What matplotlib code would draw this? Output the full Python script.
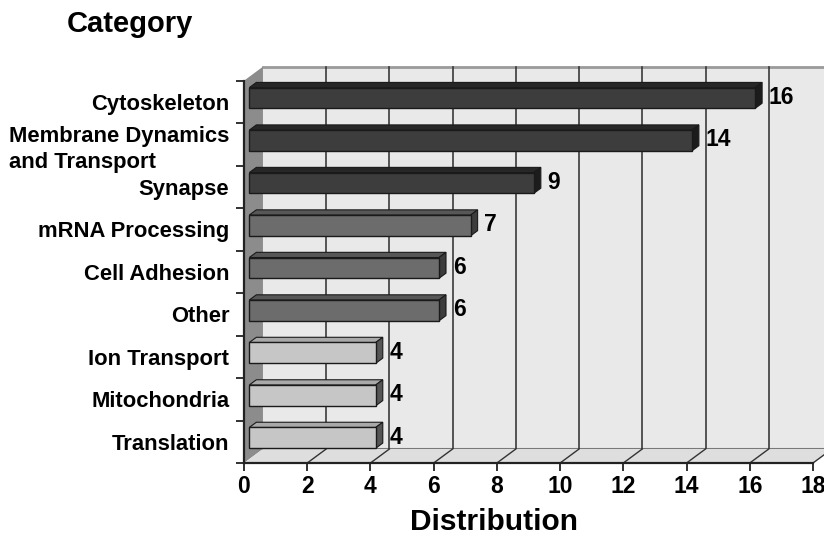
import matplotlib
matplotlib.use('Agg')
import matplotlib.pyplot as plt
from matplotlib.patches import Polygon

plt.rcParams['font.family'] = ['Liberation Sans', 'DejaVu Sans']
plt.rcParams['font.weight'] = 'bold'

categories = ["Cytoskeleton", "Membrane Dynamics\nand Transport", "Synapse",
              "mRNA Processing", "Cell Adhesion", "Other",
              "Ion Transport", "Mitochondria", "Translation"]
values = [16, 14, 9, 7, 6, 6, 4, 4, 4]
shade_group = [0, 0, 0, 1, 1, 1, 2, 2, 2]
xticks = [0, 2, 4, 6, 8, 10, 12, 14, 16, 18]

# face colours per group: (front, top, side)
group_colors = [("#3d3d3d", "#272727", "#1c1c1c"),
                ("#6c6c6c", "#575757", "#3c3c3c"),
                ("#c6c6c6", "#a9a9a9", "#555555")]

W, H = 824, 538
fig = plt.figure(figsize=(W / 100, H / 100), dpi=100)
ax = fig.add_axes([244 / W, (H - 463) / H, (813 - 244) / W, (463 - 80.7) / H])
ax.set_xlim(0, 18)
ax.set_ylim(0, len(categories))
ax.set_facecolor('none')

DX, DY = 0.6, 0.33       # depth offset of the 3D box (data units)
F, B = 0.28, 0.65        # bar front / back depth fractions
HALF = 0.245             # half bar thickness

def poly(pts, fc, ec='none', lw=0, z=0):
    p = Polygon(pts, closed=True, facecolor=fc, edgecolor=ec, linewidth=lw,
                zorder=z, clip_on=False)
    ax.add_patch(p)

n = len(categories)
xmax = xticks[-1]
# back wall
poly([(DX, DY), (xmax + DX + 1, DY), (xmax + DX + 1, n + DY), (DX, n + DY)], "#e9e9e9", z=0)
ax.plot([DX, xmax + DX + 1], [n + DY, n + DY], color="#9a9a9a", lw=2, zorder=0.5, clip_on=False)
ax.plot([DX, xmax + DX + 1], [DY, DY], color="#777777", lw=1.5, zorder=0.5, clip_on=False)
# gridlines on back wall
for t in xticks[1:]:
    ax.plot([t + DX, t + DX], [DY, n + DY], color="#3a3a3a", lw=1.2, zorder=0.6, clip_on=False)
# left wall
poly([(0, 0), (DX, DY), (DX, n + DY), (0, n)], "#8c8c8c", z=1)
# floor
poly([(0, 0), (xmax, 0), (xmax + DX, DY), (DX, DY)], "#dedede", z=1)
for t in xticks[1:]:
    ax.plot([t, t + DX], [0, DY], color="#333333", lw=1.0, zorder=1.2, clip_on=False)

# bars
for i, (v, g) in enumerate(zip(values, shade_group)):
    c = n - 0.5 - i
    front, top, side = group_colors[g]
    x0, x1 = F * DX, v + F * DX
    y0, y1 = c - HALF + F * DY, c + HALF + F * DY
    ddx, ddy = (B - F) * DX, (B - F) * DY
    poly([(x0, y1), (x1, y1), (x1 + ddx, y1 + ddy), (x0 + ddx, y1 + ddy)], top, "#1a1a1a", 0.8, 3)
    poly([(x1, y0), (x1, y1), (x1 + ddx, y1 + ddy), (x1 + ddx, y0 + ddy)], side, "#1a1a1a", 0.8, 3)
    poly([(x0, y0), (x1, y0), (x1, y1), (x0, y1)], front, "#1a1a1a", 1.0, 3.1)
    ax.text(v + 0.6, c + 0.11, str(v), ha='left', va='center', fontsize=16.5,
            fontweight='bold', zorder=5)

# axes styling
for s in ['top', 'right']:
    ax.spines[s].set_visible(False)
for s in ['left', 'bottom']:
    ax.spines[s].set_color('#222222')
    ax.spines[s].set_linewidth(1.6)
    ax.spines[s].set_zorder(4)

ax.set_xticks(xticks)
ax.set_xticklabels([str(t) for t in xticks], fontsize=16.5, fontweight='bold')
ax.tick_params(axis='x', direction='out', length=5.5, width=1.3, color='#222222', pad=3)

ax.set_yticks(range(n + 1))
ax.set_yticklabels([])
ax.tick_params(axis='y', which='major', direction='out', length=5.5, width=1.3, color='#222222')
ax.set_yticks([n - 0.5 - i for i in range(n)], minor=True)
ax.set_yticklabels(categories, minor=True, fontsize=15.8, fontweight='bold',
                   multialignment='left', linespacing=1.3)
ax.tick_params(axis='y', which='minor', length=0, pad=10.5)

fig.text(130 / W, 1 - 24 / H, "Category", ha='center', va='center', fontsize=21, fontweight='bold')
fig.text(494 / W, 1 - 522 / H, "Distribution", ha='center', va='center', fontsize=21.5, fontweight='bold')

fig.savefig("out.png", dpi=100, facecolor='white')
